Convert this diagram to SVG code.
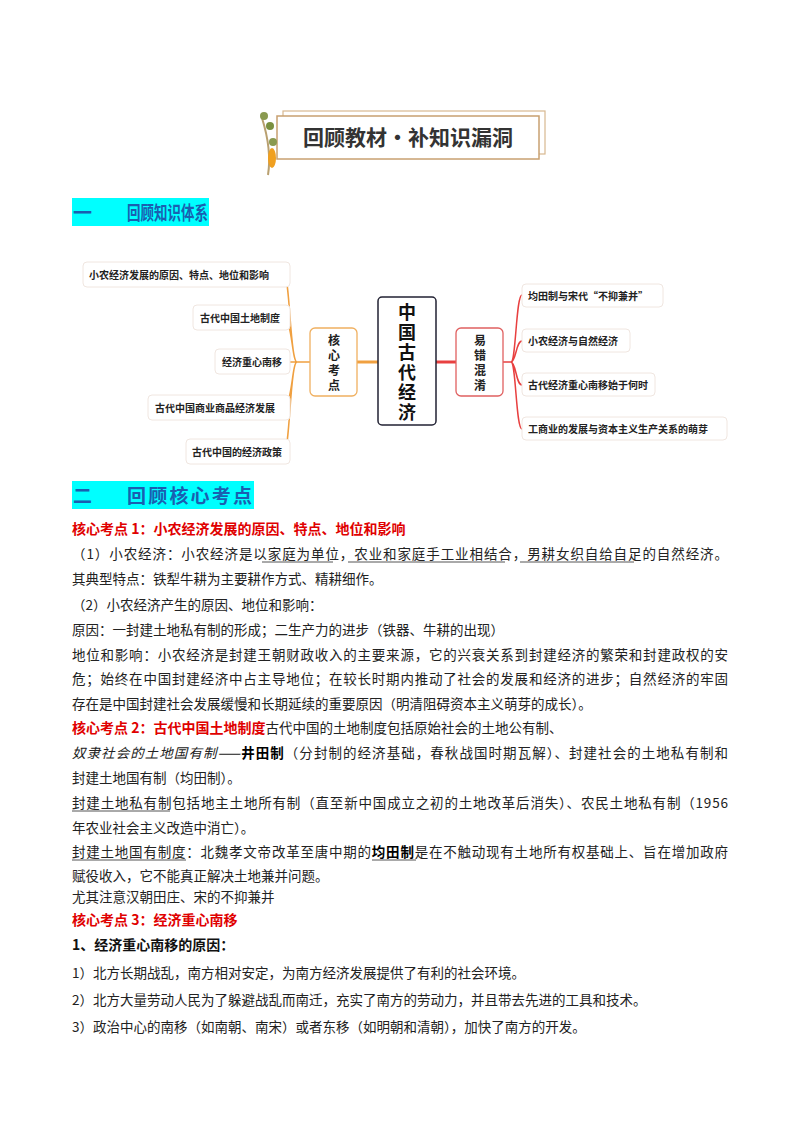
<svg xmlns="http://www.w3.org/2000/svg" width="800" height="1132" viewBox="0 0 800 1132">
<style>
text{font-family:"Noto Sans CJK SC","Liberation Sans",sans-serif;}
.b{font-size:13.5px;fill:#222;}
.h{font-size:14px;font-weight:bold;fill:#e00000;}
.sec{font-size:19px;font-weight:bold;fill:#1a5fb0;}
.leaf{fill:#fff;stroke:#f0e6e0;stroke-width:1;}
.lt{font-size:10px;font-weight:bold;fill:#222;}
.oc{fill:none;stroke:#f0a040;stroke-width:1.5;}
.rc{fill:none;stroke:#e84040;stroke-width:1.5;}
.u{stroke:#555;stroke-width:1;}
</style>
<rect width="800" height="1132" fill="#fff"/>
<g id="banner">
<rect x="283" y="111" width="262" height="43" fill="#fff" stroke="#d8b890" stroke-width="1.2"/>
<rect x="277" y="116" width="262" height="43" fill="#fff" stroke="#c8a070" stroke-width="1.5"/>
<path d="M268 175 Q272 150 262 118" stroke="#b9a070" stroke-width="2" fill="none"/>
<ellipse cx="272" cy="158" rx="4" ry="10" fill="#f0a020"/>
<circle cx="264" cy="116" r="4" fill="#8a9a50"/><circle cx="270" cy="126" r="4" fill="#7a9040"/><circle cx="273" cy="142" r="4" fill="#8a9a50"/>
<text x="408" y="145" text-anchor="middle" font-size="21" font-weight="bold" fill="#333">回顾教材·补知识漏洞</text>
</g>
<g id="sec1"><rect x="72" y="198" width="137" height="28" fill="#00ffff"/><text class="sec" x="73" y="220">一</text><text class="sec" x="127" y="220" textLength="81" lengthAdjust="spacingAndGlyphs">回顾知识体系</text></g>
<g id="connectors">
<path class="oc" d="M310 362 H297 M297 362 C290 362 290 275 284 275 M297 362 C292 362 292 318 284 318 M297 362 H284 M297 362 C292 362 292 407 284 407 M297 362 C290 362 290 452 284 452"/>
<path d="M357 362 L378 362" stroke="#f0a040" stroke-width="3"/>
<path d="M436 362 L456 362" stroke="#e84040" stroke-width="3"/>
<path class="rc" d="M503 362 H511 M511 362 C516 362 516 295 522 295 M511 362 C516 362 516 341 522 341 M511 362 C516 362 516 385 522 385 M511 362 C516 362 516 429 522 429"/>
</g>
<g id="center"><rect x="378" y="297" width="58" height="128" rx="4" fill="#fff" stroke="#223" stroke-width="1.5"/>
<text x="407" y="319" text-anchor="middle" font-size="18" font-weight="bold" fill="#111"><tspan x="407">中</tspan><tspan x="407" dy="20">国</tspan><tspan x="407" dy="20">古</tspan><tspan x="407" dy="20">代</tspan><tspan x="407" dy="20">经</tspan><tspan x="407" dy="20">济</tspan></text></g>
<g id="core"><rect x="310" y="328" width="47" height="68" rx="5" fill="#fff" stroke="#f0b060" stroke-width="1.3"/>
<text x="334" y="345" text-anchor="middle" font-size="12" font-weight="bold" fill="#222"><tspan x="334">核</tspan><tspan x="334" dy="15">心</tspan><tspan x="334" dy="15">考</tspan><tspan x="334" dy="15">点</tspan></text></g>
<g id="err"><rect x="456" y="328" width="47" height="68" rx="5" fill="#fff" stroke="#e06060" stroke-width="1.3"/>
<text x="480" y="345" text-anchor="middle" font-size="12" font-weight="bold" fill="#222"><tspan x="480">易</tspan><tspan x="480" dy="15">错</tspan><tspan x="480" dy="15">混</tspan><tspan x="480" dy="15">淆</tspan></text></g>
<g id="l1"><rect class="leaf" x="83" y="262" width="207" height="25" rx="4"/><text class="lt" x="89" y="279">小农经济发展的原因、特点、地位和影响</text></g>
<g id="l2"><rect class="leaf" x="193" y="305" width="97" height="25" rx="4"/><text class="lt" x="200" y="322">古代中国土地制度</text></g>
<g id="l3"><rect class="leaf" x="215" y="349" width="75" height="25" rx="4"/><text class="lt" x="222" y="366">经济重心南移</text></g>
<g id="l4"><rect class="leaf" x="148" y="395" width="142" height="25" rx="4"/><text class="lt" x="155" y="412">古代中国商业商品经济发展</text></g>
<g id="l5"><rect class="leaf" x="186" y="439" width="104" height="25" rx="4"/><text class="lt" x="192" y="456">古代中国的经济政策</text></g>
<g id="r1"><rect class="leaf" x="522" y="284" width="141" height="23" rx="4" stroke="#f4d0d0"/><text class="lt" x="528" y="300">均田制与宋代“不抑兼并”</text></g>
<g id="r2"><rect class="leaf" x="522" y="329" width="108" height="23" rx="4" stroke="#f4d0d0"/><text class="lt" x="528" y="345">小农经济与自然经济</text></g>
<g id="r3"><rect class="leaf" x="522" y="373" width="133" height="23" rx="4" stroke="#f4d0d0"/><text class="lt" x="528" y="389">古代经济重心南移始于何时</text></g>
<g id="r4"><rect class="leaf" x="522" y="417" width="205" height="23" rx="4" stroke="#f4d0d0"/><text class="lt" x="528" y="433">工商业的发展与资本主义生产关系的萌芽</text></g>
<g id="sec2"><rect x="72" y="481" width="182" height="28" fill="#00ffff"/><text class="sec" x="73" y="503">二</text><text class="sec" x="127" y="503" textLength="125">回顾核心考点</text></g>
<g id="body">
<text class="h" x="72" y="534">核心考点 1：小农经济发展的原因、特点、地位和影响</text>
<text class="b" x="72" y="559" textLength="656">（1）小农经济：小农经济是以家庭为单位，农业和家庭手工业相结合，男耕女织自给自足的自然经济。</text>
<line class="u" x1="262" y1="562" x2="333" y2="562"/><line class="u" x1="348" y1="562" x2="505" y2="562"/><line class="u" x1="520" y1="562" x2="634" y2="562"/>
<text class="b" x="72" y="584">其典型特点：铁犁牛耕为主要耕作方式、精耕细作。</text>
<text class="b" x="72" y="610">（2）小农经济产生的原因、地位和影响：</text>
<text class="b" x="72" y="635">原因：一封建土地私有制的形成；二生产力的进步（铁器、牛耕的出现）</text>
<text class="b" x="72" y="660" textLength="656">地位和影响：小农经济是封建王朝财政收入的主要来源，它的兴衰关系到封建经济的繁荣和封建政权的安</text>
<text class="b" x="72" y="684" textLength="656">危；始终在中国封建经济中占主导地位；在较长时期内推动了社会的发展和经济的进步；自然经济的牢固</text>
<text class="b" x="72" y="709">存在是中国封建社会发展缓慢和长期延续的重要原因（明清阻碍资本主义萌芽的成长）。</text>
<text x="72" y="733" font-size="13.5"><tspan class="h">核心考点 2：古代中国土地制度</tspan><tspan fill="#222">古代中国的土地制度包括原始社会的土地公有制、</tspan></text>
<text x="72" y="758" font-size="13.5" fill="#222" textLength="656"><tspan font-style="italic">奴隶社会的土地国有制——</tspan><tspan font-weight="bold" fill="#000">井田制</tspan><tspan>（分封制的经济基础，春秋战国时期瓦解）、封建社会的土地私有制和</tspan></text>
<text class="b" x="72" y="783">封建土地国有制（均田制）。</text>
<text class="b" x="72" y="808" textLength="656">封建土地私有制包括地主土地所有制（直至新中国成立之初的土地改革后消失）、农民土地私有制（1956</text>
<line class="u" x1="72" y1="811" x2="170" y2="811"/>
<text class="b" x="72" y="833">年农业社会主义改造中消亡）。</text>
<text x="72" y="857" font-size="13.5" fill="#222" textLength="656">封建土地国有制度：北魏孝文帝改革至唐中期的<tspan font-weight="bold" fill="#000">均田制</tspan>是在不触动现有土地所有权基础上、旨在增加政府</text>
<line class="u" x1="72" y1="860" x2="186" y2="860"/><line class="u" x1="372" y1="860" x2="416" y2="860"/>
<text class="b" x="72" y="881">赋役收入，它不能真正解决土地兼并问题。</text>
<text class="b" x="72" y="902">尤其注意汉朝田庄、宋的不抑兼并</text>
<text class="h" x="72" y="925">核心考点 3：经济重心南移</text>
<text x="72" y="950" font-size="14" font-weight="bold" fill="#111">1、经济重心南移的原因：</text>
<text class="b" x="72" y="978">1）北方长期战乱，南方相对安定，为南方经济发展提供了有利的社会环境。</text>
<text class="b" x="72" y="1005">2）北方大量劳动人民为了躲避战乱而南迁，充实了南方的劳动力，并且带去先进的工具和技术。</text>
<text class="b" x="72" y="1032">3）政治中心的南移（如南朝、南宋）或者东移（如明朝和清朝），加快了南方的开发。</text>
</g>
</svg>
